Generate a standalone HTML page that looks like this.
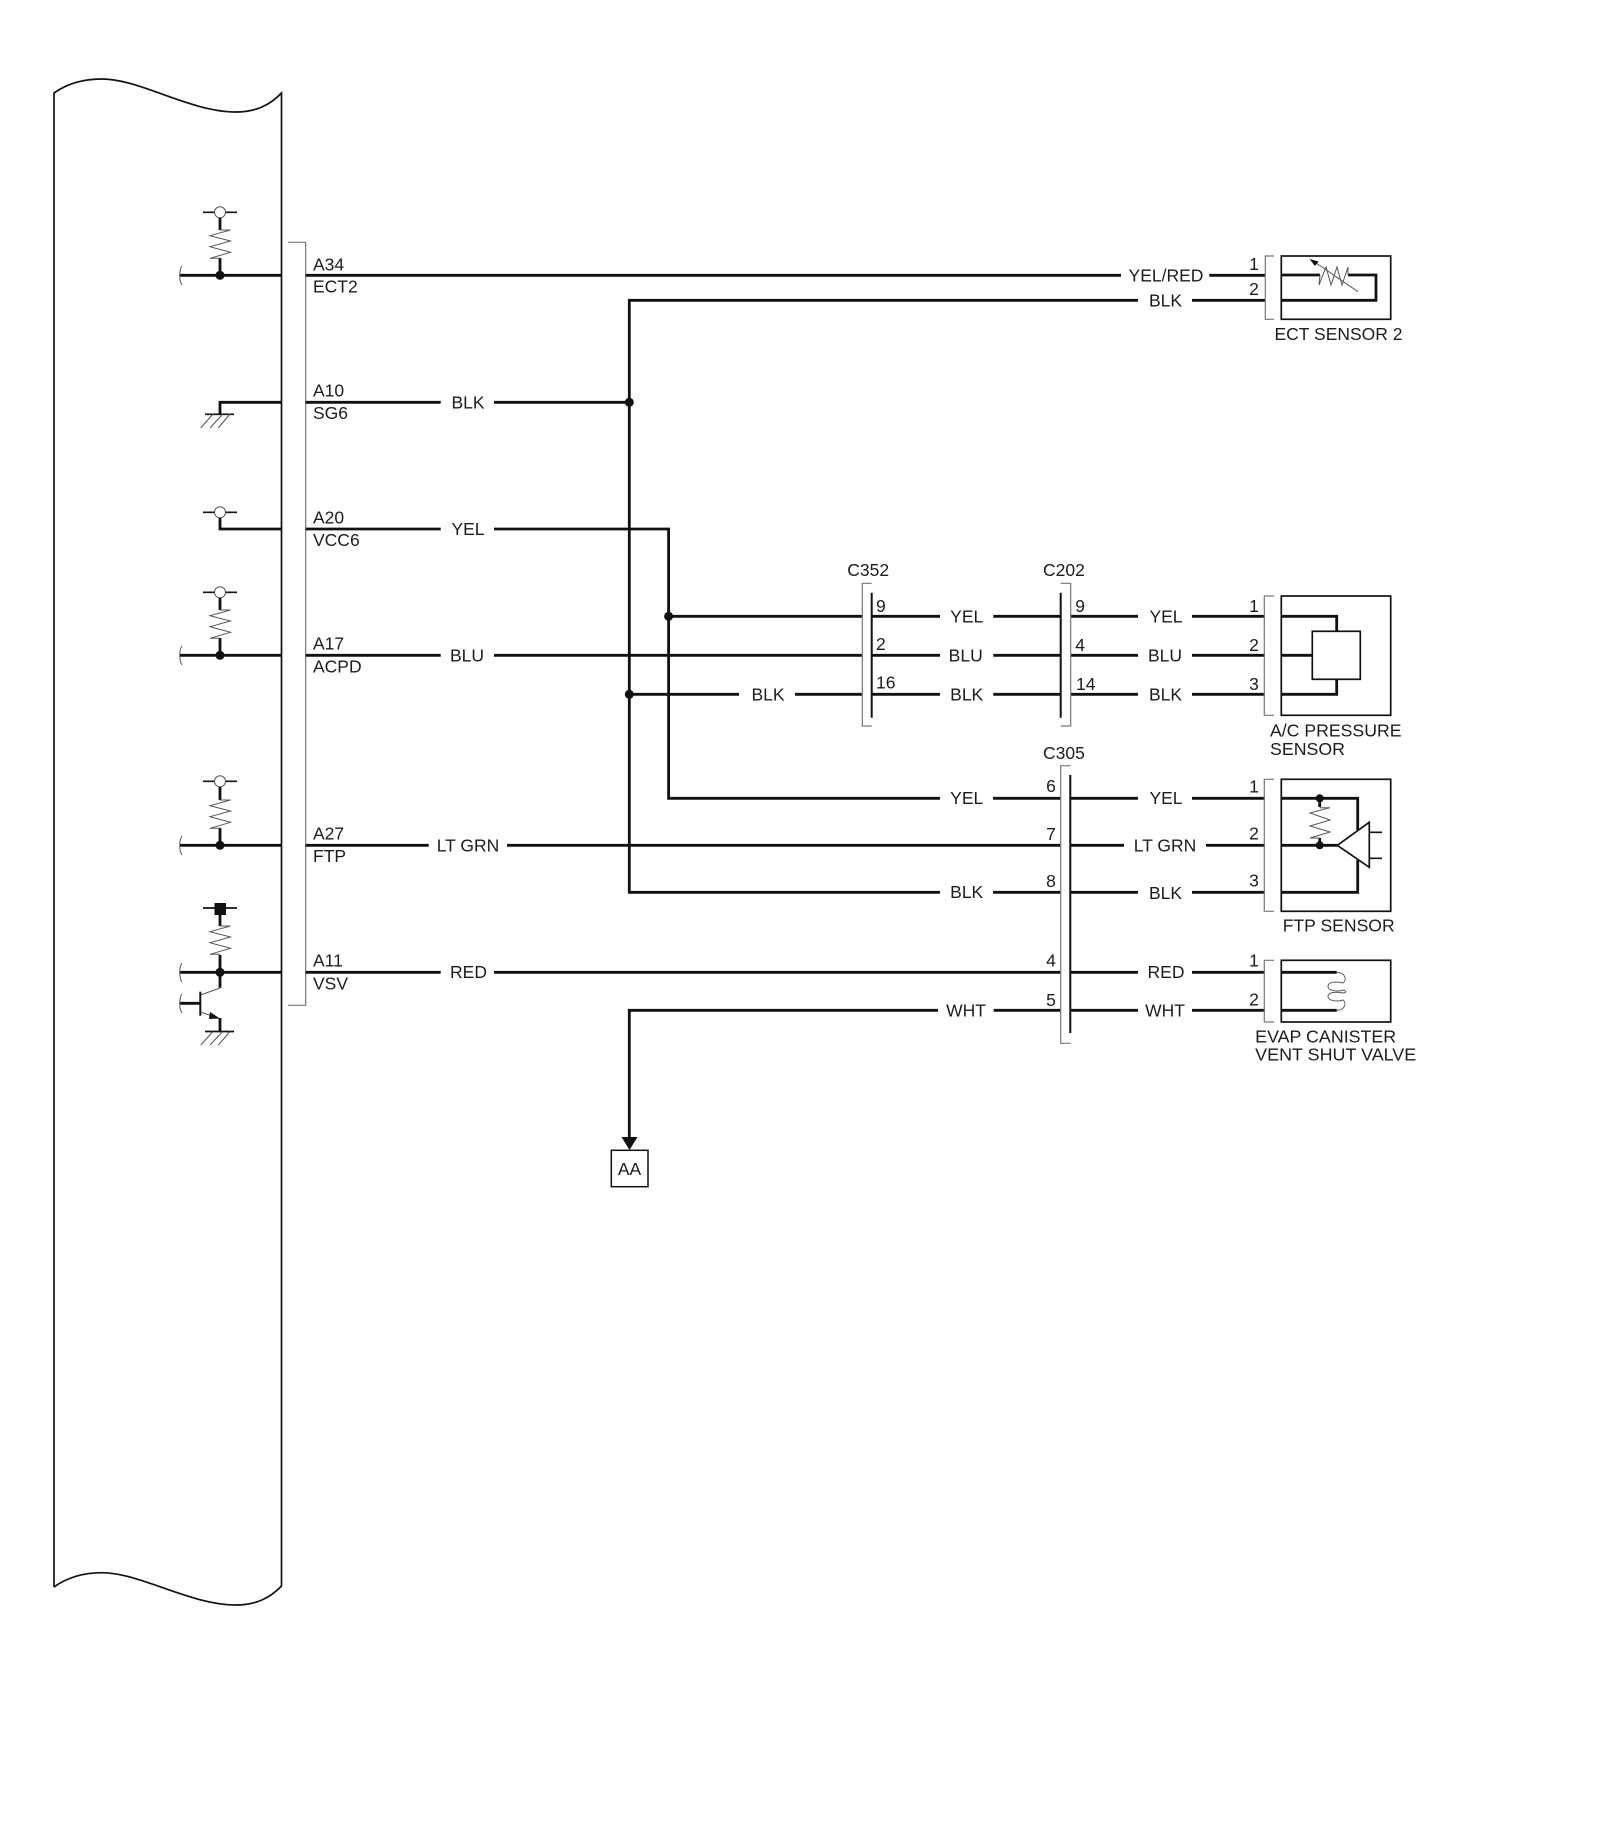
<!DOCTYPE html>
<html><head><meta charset="utf-8"><style>
html,body{margin:0;padding:0;background:#fff}
svg{display:block}
text{font-family:"Liberation Sans",sans-serif;font-size:17.5px;fill:#1c1c1c}
.w{fill:none;stroke:#111;stroke-width:2.8}
.b{fill:none;stroke:#111;stroke-width:1.7}
.g{fill:none;stroke:#777;stroke-width:1.2}
.z{fill:none;stroke:#555;stroke-width:1}
.m{text-anchor:middle}
</style></head><body>
<svg width="1600" height="1839" viewBox="0 0 1600 1839" xmlns="http://www.w3.org/2000/svg">
<rect width="1600" height="1839" fill="#fff"/>
<!-- ECU outline -->
<path class="b" d="M54 1587V93C68 83 84 79 102 79C140 79 190 112 236 112C256 112 270 105 281.5 93V1586C270 1598 256 1605 236 1605C190 1605 140 1572.7 102 1572.7C84 1572.7 68 1577 54 1587"/>
<!-- ECU connector bracket -->
<path class="g" d="M288 242.3H305.7V1005.3H288"/>

<!-- left internals -->
<g id="int">
<path class="b" d="M203 212.3H214.5M225.5 212.3H237"/><circle cx="220" cy="212.3" r="5.5" fill="#fff" stroke="#555" stroke-width="1"/>
<path class="w" d="M220 218V230M220 258V275.3M180 275.3H281"/>
<path class="z" d="M220 230L230.5 230L210 235.7L230.5 241L210 246.7L230.5 252.3L210 258.3H220"/>
<circle cx="220" cy="275.3" r="4.5" fill="#111"/>
<path class="z" d="M182 266C179 270 179 281 182 285"/>

<path class="w" d="M281 402.3H220V414"/>
<path class="b" d="M205 414.3H234"/><path class="z" d="M213 414L200.7 428M222.7 414L210 428M230 414L218.3 428"/>

<path class="b" d="M203 512.3H214.5M225.5 512.3H237"/><circle cx="220" cy="512.3" r="5.5" fill="#fff" stroke="#555" stroke-width="1"/>
<path class="w" d="M220 518V529H281"/>

<path class="b" d="M203 592.3H214.5M225.5 592.3H237"/><circle cx="220" cy="592.3" r="5.5" fill="#fff" stroke="#555" stroke-width="1"/>
<path class="w" d="M220 598V610M220 638V655.3M180 655.3H281"/>
<path class="z" d="M220 610L230.5 610L210 615.7L230.5 621L210 626.7L230.5 632.3L210 638.3H220"/>
<circle cx="220" cy="655.3" r="4.5" fill="#111"/>
<path class="z" d="M182 646C179 650 179 661 182 665"/>

<path class="b" d="M203 781.3H214.5M225.5 781.3H237"/><circle cx="220" cy="781.3" r="5.5" fill="#fff" stroke="#555" stroke-width="1"/>
<path class="w" d="M220 787V800M220 828V845.3M180 845.3H281"/>
<path class="z" d="M220 800L230.5 800L210 805.7L230.5 811L210 816.7L230.5 822.3L210 828.3H220"/>
<circle cx="220" cy="845.3" r="4.5" fill="#111"/>
<path class="z" d="M182 836C179 840 179 851 182 855"/>

<path class="b" d="M203 908H237"/><rect x="214.5" y="903" width="11.5" height="12" fill="#111"/>
<path class="w" d="M220 915V926M220 955V987.7M180 972.3H281"/>
<path class="z" d="M220 926L230.5 926L210 931.7L230.5 937L210 942.7L230.5 948.3L210 954.3H220"/>
<circle cx="220" cy="972.3" r="4.5" fill="#111"/>
<path class="z" d="M182 963C179 967 179 978 182 982"/>
<path class="z" d="M220 988L200.5 995"/>
<path class="b" d="M200.3 991.7V1015.7" style="stroke-width:2"/>
<path class="w" d="M180 1003.3H200"/>
<path class="z" d="M182 994C179 998 179 1009 182 1013"/>
<path class="z" d="M200.5 1012L212 1016"/>
<path d="M210 1012L220 1018.5L209 1019Z" fill="#111"/>
<path class="w" d="M220 1018V1031"/>
<path class="b" d="M205 1031.5H234"/><path class="z" d="M213 1031.5L200.7 1045M222.7 1031.5L210 1045M230 1031.5L218.3 1045"/>
</g>

<!-- wires -->
<path class="w" d="M305.7 275.3H1121M1209.3 275.3H1265"/>
<path class="w" d="M1138 300.3H629.3V892.3H940M993 892.3H1060.7M1070.5 892.3H1138M1192 892.3H1265"/>
<path class="w" d="M305.7 402.3H440.7M494 402.3H629.3"/>
<path class="w" d="M1192 300.3H1265"/>
<path class="w" d="M305.7 529H440.7M494 529H668.6V798.3H940M993 798.3H1060.7M1070.5 798.3H1138M1192 798.3H1265"/>
<path class="w" d="M668.6 616.3H862.3M871.7 616.3H940M993.3 616.3H1060.7M1070.7 616.3H1138M1192 616.3H1265"/>
<path class="w" d="M305.7 655.3H440.7M494 655.3H862.3M871.7 655.3H940M993.3 655.3H1060.7M1070.7 655.3H1138M1192 655.3H1265"/>
<path class="w" d="M629.3 694.3H739M795 694.3H862.3M871.7 694.3H940M993.3 694.3H1060.7M1070.7 694.3H1138M1192 694.3H1265"/>
<path class="w" d="M305.7 845.3H428.7M507 845.3H1060.7M1070.5 845.3H1124M1206 845.3H1265"/>
<path class="w" d="M305.7 972.3H440.7M494 972.3H1060.7M1070.5 972.3H1138M1192 972.3H1265"/>
<path class="w" d="M629.3 1137V1010.3H938M993.7 1010.3H1060.7M1070.5 1010.3H1138M1192 1010.3H1265"/>
<circle cx="629.3" cy="402.3" r="4.5" fill="#111"/>
<circle cx="629.3" cy="694.3" r="4.5" fill="#111"/>
<circle cx="668.6" cy="616.3" r="4.5" fill="#111"/>

<!-- arrow & AA -->
<path d="M621.5 1137H637.5L629.5 1150Z" fill="#111"/>
<rect x="611.3" y="1150.3" width="36.7" height="36.4" fill="#fff" stroke="#111" stroke-width="1.5"/>
<text x="629.5" y="1175" class="m">AA</text>

<!-- inline connectors -->
<path class="g" d="M871.7 583.3H862.3V726H871.7"/>
<path class="w" d="M871.7 592.7V717.7" style="stroke-width:2"/>
<path class="g" d="M1060.7 583.3H1070.7V726H1060.7"/>
<path class="w" d="M1060.7 592.7V717.7" style="stroke-width:2"/>
<path class="g" d="M1070.7 765.7H1060.7V1043.3H1070.7"/>
<path class="w" d="M1070.3 775V1033" style="stroke-width:2"/>

<!-- ECT sensor -->
<path class="g" d="M1274 256H1265.3V319.3H1274"/>
<rect x="1281.3" y="256" width="109.4" height="63.3" class="b"/>
<path class="w" d="M1281.3 275H1320M1348 275H1376V300.3H1281.3"/>
<path class="z" d="M1320 275L1319 285L1326 267L1331 285L1337 267L1342 285L1348 267V275"/>
<path class="z" d="M1358 291.7L1316 263"/>
<path d="M1309.5 259L1318.5 261.5L1315 266Z" fill="#111"/>

<!-- A/C sensor -->
<path class="g" d="M1274 596H1264.3V715.3H1274"/>
<rect x="1281.3" y="596" width="109.4" height="119.3" class="b"/>
<path class="w" d="M1281.3 616.3H1336.7V631.3M1281.3 655.3H1312.3M1281.3 694.3H1336.7V679.3"/>
<rect x="1312.3" y="631.3" width="48" height="48" class="b"/>

<!-- FTP sensor -->
<path class="g" d="M1274 779.3H1264.3V911.3H1274"/>
<rect x="1281.3" y="779.3" width="109.4" height="132" class="b"/>
<path class="w" d="M1281.3 798.3H1357.7V830M1281.3 845.3H1337.3M1281.3 892.3H1357.7V860M1319.7 798.3V807M1319.7 838V845.3"/>
<circle cx="1319.7" cy="798.3" r="4" fill="#111"/><circle cx="1319.7" cy="845.3" r="4" fill="#111"/>
<path class="z" d="M1319.7 807.7H1330L1310 813L1330 820L1310 826L1330 832L1310 838H1319.7"/>
<path d="M1337.3 845.3L1369.3 822.3V867.3Z" fill="#fff" stroke="#111" stroke-width="1.7"/>
<path class="b" d="M1369.3 832.3H1382M1369.3 858.3H1382"/>

<!-- EVAP valve -->
<path class="g" d="M1274 960.3H1264.3V1022H1274"/>
<rect x="1281.3" y="960.3" width="109.4" height="61.7" class="b"/>
<path class="w" d="M1281.3 972.3H1336.7M1281.3 1010.3H1336.7"/>
<path class="z" d="M1336.7 972.3C1346 973 1347 980 1343 983C1336 981 1328 982 1328 986.5C1328 991 1338 992 1344 990C1347 992 1346 992 1343 993C1336 991.5 1328 992 1328 996.5C1328 1001 1338 1002 1343 1000C1347 1003 1345 1010 1336.7 1010.3"/>

<!-- pin labels -->
<text x="313" y="270.5">A34</text><text x="313" y="292.5">ECT2</text>
<text x="313" y="396.5">A10</text><text x="313" y="419">SG6</text>
<text x="313" y="523.5">A20</text><text x="313" y="546">VCC6</text>
<text x="313" y="649.5">A17</text><text x="313" y="672.5">ACPD</text>
<text x="313" y="839.5">A27</text><text x="313" y="862">FTP</text>
<text x="313" y="966.5">A11</text><text x="313" y="989.5">VSV</text>

<!-- wire labels -->
<text x="468" y="408.5" class="m">BLK</text>
<text x="468" y="535" class="m">YEL</text>
<text x="467" y="661.5" class="m">BLU</text>
<text x="468" y="851.5" class="m">LT GRN</text>
<text x="468.5" y="978" class="m">RED</text>
<text x="1166" y="281.5" class="m">YEL/RED</text>
<text x="1165.5" y="306.5" class="m">BLK</text>
<text x="768" y="700.5" class="m">BLK</text>
<text x="966.7" y="622.5" class="m">YEL</text>
<text x="965.7" y="661.5" class="m">BLU</text>
<text x="966.7" y="700.5" class="m">BLK</text>
<text x="1166" y="622.5" class="m">YEL</text>
<text x="1165" y="661.5" class="m">BLU</text>
<text x="1165.5" y="700.5" class="m">BLK</text>
<text x="966.7" y="804" class="m">YEL</text>
<text x="966.7" y="898" class="m">BLK</text>
<text x="966" y="1016.5" class="m">WHT</text>
<text x="1166" y="804" class="m">YEL</text>
<text x="1165" y="851.5" class="m">LT GRN</text>
<text x="1165.5" y="899" class="m">BLK</text>
<text x="1166" y="978" class="m">RED</text>
<text x="1165" y="1016.5" class="m">WHT</text>

<!-- connector names -->
<text x="847.3" y="576">C352</text>
<text x="1043" y="576">C202</text>
<text x="1043" y="759">C305</text>

<!-- connector pins -->
<text x="876" y="612">9</text><text x="876" y="650">2</text><text x="876" y="688.3">16</text>
<text x="1075.3" y="612">9</text><text x="1075.3" y="651">4</text><text x="1076" y="690">14</text>
<text x="1051" y="792" class="m">6</text><text x="1051" y="840" class="m">7</text><text x="1051" y="887" class="m">8</text>
<text x="1051" y="966.7" class="m">4</text><text x="1051" y="1006" class="m">5</text>
<text x="1254" y="270" class="m">1</text><text x="1254" y="295" class="m">2</text>
<text x="1254" y="612" class="m">1</text><text x="1254" y="651" class="m">2</text><text x="1254" y="690" class="m">3</text>
<text x="1254" y="792.7" class="m">1</text><text x="1254" y="839.3" class="m">2</text><text x="1254" y="886.7" class="m">3</text>
<text x="1254" y="966.7" class="m">1</text><text x="1254" y="1005.7" class="m">2</text>

<!-- sensor names -->
<text x="1274.5" y="340" textLength="128" lengthAdjust="spacingAndGlyphs">ECT SENSOR 2</text>
<text x="1270" y="736.7" textLength="131.5" lengthAdjust="spacingAndGlyphs">A/C PRESSURE</text>
<text x="1270" y="755" textLength="75" lengthAdjust="spacingAndGlyphs">SENSOR</text>
<text x="1282.7" y="931.7" textLength="112" lengthAdjust="spacingAndGlyphs">FTP SENSOR</text>
<text x="1255.2" y="1042.7" textLength="141" lengthAdjust="spacingAndGlyphs">EVAP CANISTER</text>
<text x="1255.2" y="1060.7" textLength="161" lengthAdjust="spacingAndGlyphs">VENT SHUT VALVE</text>
</svg>
</body></html>
